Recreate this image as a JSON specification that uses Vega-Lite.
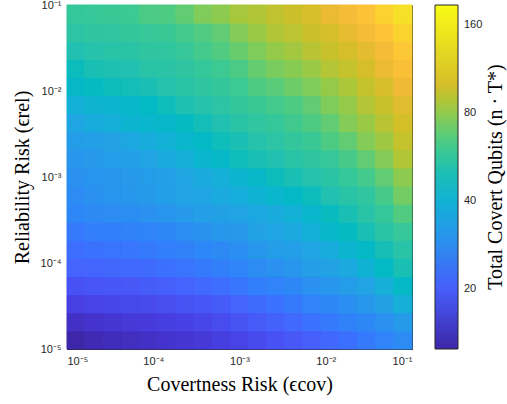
{
"$schema": "https://vega.github.io/schema/vega-lite/v6.json",
"width": 345, "height": 344,
"autosize": "none",
"padding": {"left": 67, "top": 5, "right": 95, "bottom": 55},
"background": "white",
"datasets": {
"edges": [
{"k":0,"lo":1e-5,"hi":1.6238e-5},{"k":1,"lo":1.6238e-5,"hi":2.6367e-5},{"k":2,"lo":2.6367e-5,"hi":4.2813e-5},{"k":3,"lo":4.2813e-5,"hi":6.9519e-5},{"k":4,"lo":6.9519e-5,"hi":1.1288e-4},{"k":5,"lo":1.1288e-4,"hi":1.8330e-4},{"k":6,"lo":1.8330e-4,"hi":2.9764e-4},{"k":7,"lo":2.9764e-4,"hi":4.8329e-4},{"k":8,"lo":4.8329e-4,"hi":7.8476e-4},{"k":9,"lo":7.8476e-4,"hi":1.2743e-3},{"k":10,"lo":1.2743e-3,"hi":2.0691e-3},{"k":11,"lo":2.0691e-3,"hi":3.3598e-3},{"k":12,"lo":3.3598e-3,"hi":5.4556e-3},{"k":13,"lo":5.4556e-3,"hi":8.8587e-3},{"k":14,"lo":8.8587e-3,"hi":1.4384e-2},{"k":15,"lo":1.4384e-2,"hi":2.3357e-2},{"k":16,"lo":2.3357e-2,"hi":3.7927e-2},{"k":17,"lo":3.7927e-2,"hi":6.1585e-2},{"k":18,"lo":6.1585e-2,"hi":0.1}
],
"cells": [
{"r":0,"c":0,"v":12.5},{"r":0,"c":1,"v":13.0},{"r":0,"c":2,"v":13.4},{"r":0,"c":3,"v":13.6},{"r":0,"c":4,"v":13.9},{"r":0,"c":5,"v":14.3},{"r":0,"c":6,"v":14.7},{"r":0,"c":7,"v":15.1},{"r":0,"c":8,"v":15.7},{"r":0,"c":9,"v":16.4},{"r":0,"c":10,"v":17.3},{"r":0,"c":11,"v":18.3},{"r":0,"c":12,"v":19.3},{"r":0,"c":13,"v":20.3},{"r":0,"c":14,"v":21.5},{"r":0,"c":15,"v":23.0},{"r":0,"c":16,"v":24.6},{"r":0,"c":17,"v":26.3},{"r":0,"c":18,"v":28.2},
{"r":1,"c":0,"v":13.9},{"r":1,"c":1,"v":14.3},{"r":1,"c":2,"v":14.7},{"r":1,"c":3,"v":15.1},{"r":1,"c":4,"v":15.3},{"r":1,"c":5,"v":15.7},{"r":1,"c":6,"v":16.2},{"r":1,"c":7,"v":16.8},{"r":1,"c":8,"v":17.5},{"r":1,"c":9,"v":18.5},{"r":1,"c":10,"v":19.5},{"r":1,"c":11,"v":20.6},{"r":1,"c":12,"v":21.8},{"r":1,"c":13,"v":23.3},{"r":1,"c":14,"v":24.6},{"r":1,"c":15,"v":26.0},{"r":1,"c":16,"v":27.4},{"r":1,"c":17,"v":29.3},{"r":1,"c":18,"v":31.8},
{"r":2,"c":0,"v":15.9},{"r":2,"c":1,"v":16.4},{"r":2,"c":2,"v":16.8},{"r":2,"c":3,"v":17.1},{"r":2,"c":4,"v":17.3},{"r":2,"c":5,"v":17.8},{"r":2,"c":6,"v":18.5},{"r":2,"c":7,"v":19.0},{"r":2,"c":8,"v":19.8},{"r":2,"c":9,"v":20.9},{"r":2,"c":10,"v":22.1},{"r":2,"c":11,"v":23.3},{"r":2,"c":12,"v":24.6},{"r":2,"c":13,"v":26.3},{"r":2,"c":14,"v":27.4},{"r":2,"c":15,"v":28.9},{"r":2,"c":16,"v":30.9},{"r":2,"c":17,"v":33.6},{"r":2,"c":18,"v":38.9},
{"r":3,"c":0,"v":18.3},{"r":3,"c":1,"v":18.8},{"r":3,"c":2,"v":19.0},{"r":3,"c":3,"v":19.3},{"r":3,"c":4,"v":19.8},{"r":3,"c":5,"v":20.3},{"r":3,"c":6,"v":20.9},{"r":3,"c":7,"v":21.8},{"r":3,"c":8,"v":22.7},{"r":3,"c":9,"v":23.9},{"r":3,"c":10,"v":25.3},{"r":3,"c":11,"v":26.3},{"r":3,"c":12,"v":27.4},{"r":3,"c":13,"v":29.3},{"r":3,"c":14,"v":30.5},{"r":3,"c":15,"v":32.2},{"r":3,"c":16,"v":34.5},{"r":3,"c":17,"v":38.9},{"r":3,"c":18,"v":44.6},
{"r":4,"c":0,"v":20.9},{"r":4,"c":1,"v":21.2},{"r":4,"c":2,"v":21.5},{"r":4,"c":3,"v":21.8},{"r":4,"c":4,"v":22.1},{"r":4,"c":5,"v":23.0},{"r":4,"c":6,"v":23.6},{"r":4,"c":7,"v":24.6},{"r":4,"c":8,"v":25.6},{"r":4,"c":9,"v":26.7},{"r":4,"c":10,"v":28.2},{"r":4,"c":11,"v":29.3},{"r":4,"c":12,"v":30.5},{"r":4,"c":13,"v":32.7},{"r":4,"c":14,"v":34.0},{"r":4,"c":15,"v":36.4},{"r":4,"c":16,"v":40.6},{"r":4,"c":17,"v":45.2},{"r":4,"c":18,"v":49.7},
{"r":5,"c":0,"v":22.7},{"r":5,"c":1,"v":23.3},{"r":5,"c":2,"v":23.6},{"r":5,"c":3,"v":23.9},{"r":5,"c":4,"v":24.6},{"r":5,"c":5,"v":25.3},{"r":5,"c":6,"v":26.0},{"r":5,"c":7,"v":27.0},{"r":5,"c":8,"v":27.8},{"r":5,"c":9,"v":28.9},{"r":5,"c":10,"v":30.9},{"r":5,"c":11,"v":32.2},{"r":5,"c":12,"v":33.1},{"r":5,"c":13,"v":35.4},{"r":5,"c":14,"v":37.9},{"r":5,"c":15,"v":41.7},{"r":5,"c":16,"v":44.6},{"r":5,"c":17,"v":49.0},{"r":5,"c":18,"v":53.2},
{"r":6,"c":0,"v":24.6},{"r":6,"c":1,"v":25.3},{"r":6,"c":2,"v":25.6},{"r":6,"c":3,"v":26.0},{"r":6,"c":4,"v":26.7},{"r":6,"c":5,"v":27.4},{"r":6,"c":6,"v":28.5},{"r":6,"c":7,"v":29.7},{"r":6,"c":8,"v":30.9},{"r":6,"c":9,"v":31.4},{"r":6,"c":10,"v":34.0},{"r":6,"c":11,"v":34.9},{"r":6,"c":12,"v":36.4},{"r":6,"c":13,"v":40.0},{"r":6,"c":14,"v":43.4},{"r":6,"c":15,"v":45.8},{"r":6,"c":16,"v":49.7},{"r":6,"c":17,"v":53.9},{"r":6,"c":18,"v":58.4},
{"r":7,"c":0,"v":27.0},{"r":7,"c":1,"v":27.8},{"r":7,"c":2,"v":28.2},{"r":7,"c":3,"v":28.5},{"r":7,"c":4,"v":29.3},{"r":7,"c":5,"v":30.1},{"r":7,"c":6,"v":31.4},{"r":7,"c":7,"v":32.7},{"r":7,"c":8,"v":33.6},{"r":7,"c":9,"v":34.5},{"r":7,"c":10,"v":35.9},{"r":7,"c":11,"v":37.4},{"r":7,"c":12,"v":40.0},{"r":7,"c":13,"v":42.8},{"r":7,"c":14,"v":46.4},{"r":7,"c":15,"v":49.7},{"r":7,"c":16,"v":53.2},{"r":7,"c":17,"v":57.6},{"r":7,"c":18,"v":65.1},
{"r":8,"c":0,"v":28.2},{"r":8,"c":1,"v":29.3},{"r":8,"c":2,"v":30.1},{"r":8,"c":3,"v":30.9},{"r":8,"c":4,"v":31.8},{"r":8,"c":5,"v":33.1},{"r":8,"c":6,"v":34.5},{"r":8,"c":7,"v":35.4},{"r":8,"c":8,"v":36.9},{"r":8,"c":9,"v":38.4},{"r":8,"c":10,"v":40.6},{"r":8,"c":11,"v":42.8},{"r":8,"c":12,"v":44.6},{"r":8,"c":13,"v":47.1},{"r":8,"c":14,"v":51.0},{"r":8,"c":15,"v":53.2},{"r":8,"c":16,"v":56.1},{"r":8,"c":17,"v":62.5},{"r":8,"c":18,"v":72.6},
{"r":9,"c":0,"v":29.3},{"r":9,"c":1,"v":30.1},{"r":9,"c":2,"v":30.5},{"r":9,"c":3,"v":31.4},{"r":9,"c":4,"v":32.2},{"r":9,"c":5,"v":33.1},{"r":9,"c":6,"v":34.9},{"r":9,"c":7,"v":36.9},{"r":9,"c":8,"v":38.9},{"r":9,"c":9,"v":41.7},{"r":9,"c":10,"v":44.0},{"r":9,"c":11,"v":47.1},{"r":9,"c":12,"v":49.7},{"r":9,"c":13,"v":51.7},{"r":9,"c":14,"v":53.9},{"r":9,"c":15,"v":57.6},{"r":9,"c":16,"v":61.7},{"r":9,"c":17,"v":68.7},{"r":9,"c":18,"v":78.7},
{"r":10,"c":0,"v":30.5},{"r":10,"c":1,"v":31.4},{"r":10,"c":2,"v":32.2},{"r":10,"c":3,"v":33.1},{"r":10,"c":4,"v":34.5},{"r":10,"c":5,"v":36.9},{"r":10,"c":6,"v":38.9},{"r":10,"c":7,"v":42.2},{"r":10,"c":8,"v":44.0},{"r":10,"c":9,"v":47.7},{"r":10,"c":10,"v":49.7},{"r":10,"c":11,"v":51.0},{"r":10,"c":12,"v":53.2},{"r":10,"c":13,"v":55.4},{"r":10,"c":14,"v":58.4},{"r":10,"c":15,"v":62.5},{"r":10,"c":16,"v":68.7},{"r":10,"c":17,"v":76.6},{"r":10,"c":18,"v":87.7},
{"r":11,"c":0,"v":32.2},{"r":11,"c":1,"v":33.1},{"r":11,"c":2,"v":34.0},{"r":11,"c":3,"v":35.9},{"r":11,"c":4,"v":37.9},{"r":11,"c":5,"v":40.0},{"r":11,"c":6,"v":42.8},{"r":11,"c":7,"v":44.6},{"r":11,"c":8,"v":47.7},{"r":11,"c":9,"v":49.7},{"r":11,"c":10,"v":52.4},{"r":11,"c":11,"v":54.6},{"r":11,"c":12,"v":56.9},{"r":11,"c":13,"v":59.2},{"r":11,"c":14,"v":64.2},{"r":11,"c":15,"v":68.7},{"r":11,"c":16,"v":76.6},{"r":11,"c":17,"v":83.1},{"r":11,"c":18,"v":93.8},
{"r":12,"c":0,"v":35.4},{"r":12,"c":1,"v":37.9},{"r":12,"c":2,"v":38.9},{"r":12,"c":3,"v":41.7},{"r":12,"c":4,"v":42.8},{"r":12,"c":5,"v":43.4},{"r":12,"c":6,"v":45.8},{"r":12,"c":7,"v":48.4},{"r":12,"c":8,"v":51.0},{"r":12,"c":9,"v":53.2},{"r":12,"c":10,"v":56.1},{"r":12,"c":11,"v":57.6},{"r":12,"c":12,"v":60.9},{"r":12,"c":13,"v":64.2},{"r":12,"c":14,"v":68.7},{"r":12,"c":15,"v":76.6},{"r":12,"c":16,"v":81.9},{"r":12,"c":17,"v":90.1},{"r":12,"c":18,"v":99.0},
{"r":13,"c":0,"v":40.0},{"r":13,"c":1,"v":41.1},{"r":13,"c":2,"v":41.7},{"r":13,"c":3,"v":43.4},{"r":13,"c":4,"v":45.2},{"r":13,"c":5,"v":47.7},{"r":13,"c":6,"v":50.4},{"r":13,"c":7,"v":52.4},{"r":13,"c":8,"v":54.6},{"r":13,"c":9,"v":56.9},{"r":13,"c":10,"v":59.2},{"r":13,"c":11,"v":61.7},{"r":13,"c":12,"v":64.2},{"r":13,"c":13,"v":68.7},{"r":13,"c":14,"v":75.6},{"r":13,"c":15,"v":80.8},{"r":13,"c":16,"v":88.9},{"r":13,"c":17,"v":95.1},{"r":13,"c":18,"v":104.5},
{"r":14,"c":0,"v":44.0},{"r":14,"c":1,"v":45.8},{"r":14,"c":2,"v":47.1},{"r":14,"c":3,"v":48.4},{"r":14,"c":4,"v":49.7},{"r":14,"c":5,"v":51.7},{"r":14,"c":6,"v":53.2},{"r":14,"c":7,"v":55.4},{"r":14,"c":8,"v":56.9},{"r":14,"c":9,"v":60.0},{"r":14,"c":10,"v":64.2},{"r":14,"c":11,"v":66.9},{"r":14,"c":12,"v":71.6},{"r":14,"c":13,"v":75.6},{"r":14,"c":14,"v":80.8},{"r":14,"c":15,"v":86.5},{"r":14,"c":16,"v":93.8},{"r":14,"c":17,"v":101.7},{"r":14,"c":18,"v":111.8},
{"r":15,"c":0,"v":47.1},{"r":15,"c":1,"v":49.7},{"r":15,"c":2,"v":50.4},{"r":15,"c":3,"v":51.0},{"r":15,"c":4,"v":53.2},{"r":15,"c":5,"v":53.9},{"r":15,"c":6,"v":55.4},{"r":15,"c":7,"v":57.6},{"r":15,"c":8,"v":60.0},{"r":15,"c":9,"v":63.4},{"r":15,"c":10,"v":69.7},{"r":15,"c":11,"v":74.5},{"r":15,"c":12,"v":77.6},{"r":15,"c":13,"v":81.9},{"r":15,"c":14,"v":88.9},{"r":15,"c":15,"v":93.8},{"r":15,"c":16,"v":100.4},{"r":15,"c":17,"v":108.9},{"r":15,"c":18,"v":121.3},
{"r":16,"c":0,"v":51.0},{"r":16,"c":1,"v":52.4},{"r":16,"c":2,"v":53.2},{"r":16,"c":3,"v":53.9},{"r":16,"c":4,"v":55.4},{"r":16,"c":5,"v":56.1},{"r":16,"c":6,"v":58.4},{"r":16,"c":7,"v":61.7},{"r":16,"c":8,"v":65.1},{"r":16,"c":9,"v":70.6},{"r":16,"c":10,"v":75.6},{"r":16,"c":11,"v":80.8},{"r":16,"c":12,"v":84.2},{"r":16,"c":13,"v":90.1},{"r":16,"c":14,"v":95.1},{"r":16,"c":15,"v":100.4},{"r":16,"c":16,"v":105.9},{"r":16,"c":17,"v":116.5},{"r":16,"c":18,"v":131.6},
{"r":17,"c":0,"v":54.6},{"r":17,"c":1,"v":55.4},{"r":17,"c":2,"v":56.1},{"r":17,"c":3,"v":56.9},{"r":17,"c":4,"v":58.4},{"r":17,"c":5,"v":59.2},{"r":17,"c":6,"v":61.7},{"r":17,"c":7,"v":65.1},{"r":17,"c":8,"v":68.7},{"r":17,"c":9,"v":76.6},{"r":17,"c":10,"v":81.9},{"r":17,"c":11,"v":87.7},{"r":17,"c":12,"v":91.3},{"r":17,"c":13,"v":96.4},{"r":17,"c":14,"v":100.4},{"r":17,"c":15,"v":107.4},{"r":17,"c":16,"v":116.5},{"r":17,"c":17,"v":128.1},{"r":17,"c":18,"v":142.7},
{"r":18,"c":0,"v":57.6},{"r":18,"c":1,"v":58.4},{"r":18,"c":2,"v":59.2},{"r":18,"c":3,"v":60.0},{"r":18,"c":4,"v":63.4},{"r":18,"c":5,"v":64.2},{"r":18,"c":6,"v":68.7},{"r":18,"c":7,"v":75.6},{"r":18,"c":8,"v":78.7},{"r":18,"c":9,"v":85.3},{"r":18,"c":10,"v":87.7},{"r":18,"c":11,"v":92.6},{"r":18,"c":12,"v":96.4},{"r":18,"c":13,"v":101.7},{"r":18,"c":14,"v":108.9},{"r":18,"c":15,"v":116.5},{"r":18,"c":16,"v":126.3},{"r":18,"c":17,"v":140.7},{"r":18,"c":18,"v":154.8}
]
},
"data": {"name": "cells"},
"transform": [
{"lookup": "c", "from": {"data": {"name": "edges"}, "key": "k", "fields": ["lo", "hi"]}, "as": ["x0", "x1"]},
{"lookup": "r", "from": {"data": {"name": "edges"}, "key": "k", "fields": ["lo", "hi"]}, "as": ["y0", "y1"]}
],
"mark": {"type": "rect", "strokeWidth": 1, "stroke": {"expr": "scale('color', datum.v)"}},
"encoding": {
"x": {"field": "x0", "type": "quantitative",
 "scale": {"type": "log", "domain": [0.00001, 0.1], "nice": false},
 "axis": {"title": "Covertness Risk (ϵcov)", "values": [0.00001, 0.0001, 0.001, 0.01, 0.1],
  "labelExpr": "datum.value < 2e-5 ? '10⁻⁵' : datum.value < 2e-4 ? '10⁻⁴' : datum.value < 2e-3 ? '10⁻³' : datum.value < 2e-2 ? '10⁻²' : '10⁻¹'",
  "labelPadding": 10, "titlePadding": 8}},
"x2": {"field": "x1"},
"y": {"field": "y0", "type": "quantitative",
 "scale": {"type": "log", "domain": [0.00001, 0.1], "nice": false},
 "axis": {"title": "Reliability Risk (ϵrel)", "values": [0.00001, 0.0001, 0.001, 0.01, 0.1],
  "labelExpr": "datum.value < 2e-5 ? '10⁻⁵' : datum.value < 2e-4 ? '10⁻⁴' : datum.value < 2e-3 ? '10⁻³' : datum.value < 2e-2 ? '10⁻²' : '10⁻¹'",
  "labelPadding": 10, "titlePadding": 8}},
"y2": {"field": "y1"},
"color": {"field": "v", "type": "quantitative",
 "scale": {"type": "log", "interpolate": "rgb",
  "domain": [12.5,14.22,16.17,18.4,20.93,23.8,27.08,30.8,35.03,39.85,45.33,51.56,58.65,66.72,75.89,86.32,98.19,111.69,127.05,144.51,164.38,187],
  "range": ["#3E26A8","#4432CB","#4741E5","#4852F4","#4563FD","#3875FE","#2E87F7","#2797EB","#20A5E3","#12B1D6","#02BAC3","#24C1AE","#37C897","#57CC7A","#81CC59","#ABC739","#D1BF27","#F0BA36","#FEC338","#FAD62D","#F5E924","#F9FB15"]},
 "legend": {"type": "gradient", "orient": "right", "offset": 23, "padding": 0, "title": null, "direction": "vertical",
  "gradientLength": 344, "gradientThickness": 23, "gradientStrokeColor": "#262626", "gradientStrokeWidth": 1,
  "values": [20, 40, 80, 160], "format": "d", "labelFont": "Liberation Sans", "labelFontSize": 11,
  "labelColor": "#262626", "labelOffset": 6, "labelOverlap": false}}
},
"title": {"text": "Total Covert Qubits (n · T*)", "orient": "right", "angle": 270, "anchor": "middle",
 "font": "Liberation Serif", "fontSize": 20, "fontWeight": "normal", "color": "#000000", "offset": -17},
"config": {
 "view": {"stroke": "#262626", "strokeWidth": 1},
 "axis": {"domain": false, "grid": false, "ticks": true, "tickSize": -4, "tickColor": "#262626", "zindex": 1,
  "labelFont": "Liberation Sans", "labelFontSize": 11, "labelColor": "#262626",
  "titleFont": "Liberation Serif", "titleFontSize": 20, "titleFontWeight": "normal", "titleColor": "#000000"}
}
}
